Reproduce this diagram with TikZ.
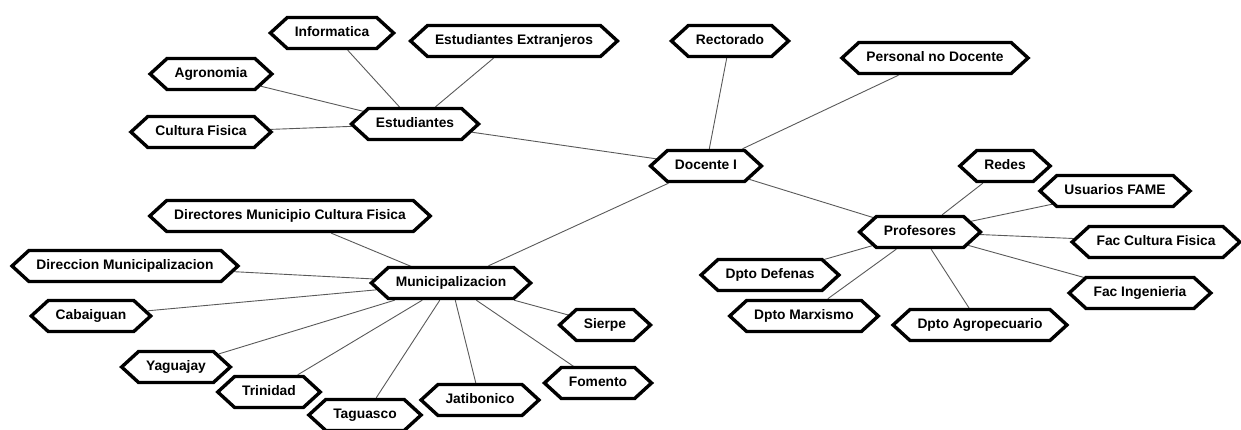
\documentclass[tikz,border=0pt]{standalone}
\usepackage{fontspec}
\setmainfont{Liberation Sans}
\usetikzlibrary{shapes.symbols,backgrounds}
\begin{document}
\begin{tikzpicture}[x=1pt,y=-1pt,
  hexnode/.style={signal, signal to=east and west, signal pointer angle=85,
    draw=black, line width=3.4pt, fill=white, line join=miter,
    font=\fontsize{13.8}{16}\selectfont\bfseries,
    text height=10pt, text depth=3pt, inner xsep=7.5pt, inner ysep=9pt},
  link/.style={draw=black!65, line width=0.9pt}]
\useasboundingbox (0,0) rectangle (1241,430);

% central hub and its groups
\node[hexnode] (doc)   at (706,166) {Docente I};
\node[hexnode] (est)   at (415,124) {Estudiantes};
\node[hexnode] (prof)  at (920,232) {Profesores};
\node[hexnode] (mun)   at (451,283) {Municipalizacion};
\node[hexnode] (rect)  at (730,41)  {Rectorado};
\node[hexnode] (pnd)   at (935,58)  {Personal no Docente};

% students
\node[hexnode] (inf)   at (332,33)  {Informatica};
\node[hexnode] (estx)  at (514,41)  {Estudiantes Extranjeros};
\node[hexnode] (agr)   at (211,74)  {Agronomia};
\node[hexnode] (cfis)  at (201,132) {Cultura Fisica};

% teachers
\node[hexnode] (red)   at (1005,166) {Redes};
\node[hexnode] (ufame) at (1115,191) {Usuarios FAME};
\node[hexnode] (fcf)   at (1156,242) {Fac Cultura Fisica};
\node[hexnode] (fing)  at (1140,293) {Fac Ingenieria};
\node[hexnode] (ddef)  at (770,275)  {Dpto Defenas};
\node[hexnode] (dmarx) at (804,316)  {Dpto Marxismo};
\node[hexnode] (dagro) at (980,325)  {Dpto Agropecuario};

% municipalities
\node[hexnode] (dmcf)  at (290,216) {Directores Municipio Cultura Fisica};
\node[hexnode] (dmun)  at (125,266) {Direccion Municipalizacion};
\node[hexnode] (cab)   at (91,316)  {Cabaiguan};
\node[hexnode] (sier)  at (605,325) {Sierpe};
\node[hexnode] (yag)   at (176,367) {Yaguajay};
\node[hexnode] (trin)  at (269,392) {Trinidad};
\node[hexnode] (tag)   at (365,415) {Taguasco};
\node[hexnode] (jat)   at (480,400) {Jatibonico};
\node[hexnode] (fom)   at (598,383) {Fomento};

\begin{scope}[on background layer]
  \draw[link] (doc) -- (est);
  \draw[link] (doc) -- (rect);
  \draw[link] (doc) -- (pnd);
  \draw[link] (doc) -- (prof);
  \draw[link] (doc) -- (mun);
  \foreach \n in {inf,estx,agr,cfis} \draw[link] (est) -- (\n);
  \foreach \n in {red,ufame,fcf,fing,ddef,dmarx,dagro} \draw[link] (prof) -- (\n);
  \foreach \n in {dmcf,dmun,cab,sier,yag,trin,tag,jat,fom} \draw[link] (mun) -- (\n);
\end{scope}
\end{tikzpicture}
\end{document}
